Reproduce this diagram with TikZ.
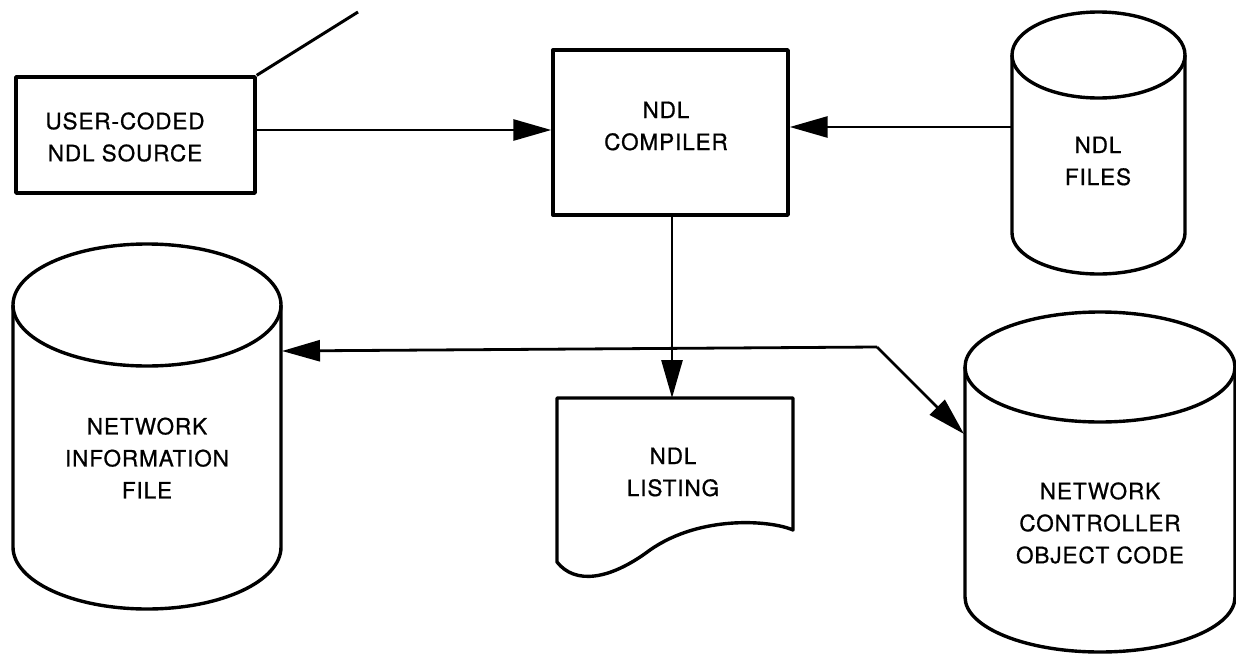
\documentclass[tikz,border=0pt]{standalone}
\usepackage{fontspec}
\setmainfont{TeX Gyre Heros}[LetterSpace=4,FakeBold=0.8]
\usetikzlibrary{arrows.meta}
\begin{document}
\begin{tikzpicture}[x=1pt,y=-1pt,
  shapeline/.style={line width=3.4pt, line join=round},
  conn/.style={line width=2.8pt, -{Triangle[length=38pt,width=21pt]}},
  lbl/.style={align=center, font=\fontsize{22.5}{32}\selectfont, inner sep=0pt}]
\useasboundingbox (0,0) rectangle (1236,653);

% boxes
\node[draw, shapeline, minimum width=239pt, minimum height=116pt] (src) at (135.5,135) {};
\node[lbl] (srcT) at (125,137) {USER-CODED\\NDL SOURCE};
\node[draw, shapeline, minimum width=235pt, minimum height=165pt] (cmp) at (670.5,132.5) {};
\node[lbl] (cmpT) at (666,126) {NDL\\COMPILER};

% slanted line from source box
\coordinate (slantEnd) at (358,12);
\draw[line width=3pt] (src.north east) -- (slantEnd);

% NDL files cylinder
\draw[shapeline] (1012,55) -- (1012,233) arc[start angle=180, end angle=360, x radius=86.5pt, y radius=41pt] -- (1185,55);
\draw[shapeline] (1098.5,55) ellipse[x radius=86.5pt, y radius=43pt];
\node[lbl] (filesT) at (1098,161) {NDL\\FILES};
\coordinate (filesIn) at (1012,127);

% Network information file cylinder
\draw[shapeline] (13,305) -- (13,547) arc[start angle=180, end angle=360, x radius=134pt, y radius=62pt] -- (281,305);
\draw[shapeline] (147,305) ellipse[x radius=134pt, y radius=61pt];
\node[lbl] (nifT) at (147,458) {NETWORK\\INFORMATION\\FILE};
\coordinate (nifIn) at (282,351);

% Network controller object code cylinder
\draw[shapeline] (965,367) -- (965,597) arc[start angle=180, end angle=360, x radius=135pt, y radius=55pt] -- (1235,367);
\draw[shapeline] (1100,367) ellipse[x radius=135pt, y radius=55pt];
\node[lbl] (ncocT) at (1100,523) {NETWORK\\CONTROLLER\\OBJECT CODE};
\coordinate (ncocIn) at (964,434);

% listing document
\coordinate (lstTop) at (672,398);
\draw[shapeline] (557,398) -- (793,398) -- (793,530)
  .. controls (770,520) and (700,515) .. (650,550)
  .. controls (610,580) and (575,585) .. (557,562) -- cycle;
\node[lbl] (lstT) at (673,472) {NDL\\LISTING};

% connectors
\draw[conn] (src.east |- 0,130) -- (cmp.west |- 0,130);
\draw[conn] (filesIn) -- (cmp.east |- filesIn);
\draw[conn] (cmp.south -| lstTop) -- (lstTop);
\coordinate (bend) at (877,347);
\draw[conn] (bend) -- (nifIn);
\draw[conn] (bend) -- (ncocIn);
\end{tikzpicture}
\end{document}
